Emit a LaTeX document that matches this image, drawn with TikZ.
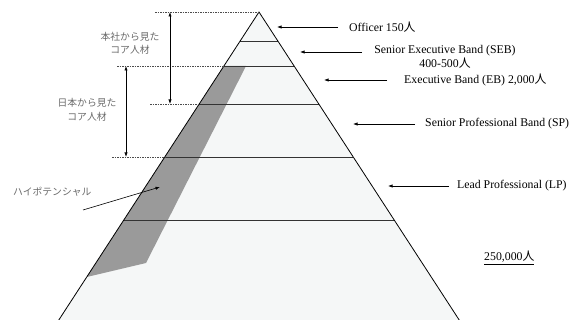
\documentclass[tikz,border=0pt]{standalone}
\usepackage{fontspec}
\setmainfont{Liberation Serif}
\newfontfamily\jp{Noto Sans CJK JP}
\usetikzlibrary{arrows.meta}
\definecolor{pyrfill}{HTML}{F5F7F7}
\definecolor{band}{HTML}{9A9A9A}
\definecolor{jgray}{HTML}{6A6A6A}
\tikzset{
  edge/.style={black, line width=0.8pt},
  level/.style={black!80, line width=0.9pt},
  guide/.style={black!70, line width=0.5pt, dash pattern=on 1.5pt off 1pt},
  arr/.style={-{Latex[length=4.5pt,width=3.2pt]}, black, line width=0.6pt},
  darr/.style={{Latex[length=4.5pt,width=3.2pt]}-{Latex[length=4.5pt,width=3.2pt]}, black, line width=0.6pt},
  lab/.style={font=\fontsize{11.8}{14}\selectfont, inner sep=0pt, anchor=west},
  jlab/.style={font=\jp\fontsize{9.8}{13.5}\selectfont, text=jgray, inner sep=0pt, align=center}
}
\begin{document}
\begin{tikzpicture}[x=1pt,y=-1pt]
\useasboundingbox (0,0) rectangle (578,320);
\clip (0,0) rectangle (578,320);
% pyramid corners
\coordinate (apex) at (259,12);
\coordinate (bl) at (58.8,320);
\coordinate (br) at (459.2,320);
% level ends
\coordinate (l1) at (240.15,41);  \coordinate (r1) at (277.85,41);
\coordinate (l2) at (223.9,66);   \coordinate (r2) at (294.1,66);
\coordinate (l3) at (199.2,104);  \coordinate (r3) at (318.8,104);
\coordinate (l4) at (164.75,157); \coordinate (r4) at (353.25,157);
\coordinate (l5) at (123.8,220);  \coordinate (r5) at (394.2,220);
% pyramid body
\fill[pyrfill] (apex) -- (br) -- (bl) -- cycle;
% high-potential band
\coordinate (b1) at (246,66);
\coordinate (b2) at (146,263);
\coordinate (b3) at (86.75,277);
\fill[band] (l2) -- (b1) -- (b2) -- (b3) -- cycle;
% levels
\foreach \i in {1,...,5} \draw[level] (l\i) -- (r\i);
\draw[edge] (bl) -- (apex) -- (br);
% dashed guides
\coordinate (g0) at (155,12);
\coordinate (g2) at (117,66);
\coordinate (g3) at (150,104);
\coordinate (g4) at (112,157);
\draw[guide] (g0) -- (apex);
\draw[guide] (g2) -- (l2);
\draw[guide] (g3) -- (l3);
\draw[guide] (g4) -- (l4);
% vertical arrows
\coordinate (va1) at (170,12); \coordinate (vb1) at (170,104);
\coordinate (va2) at (126,66); \coordinate (vb2) at (126,157);
\draw[darr] (va1) -- (vb1);
\draw[darr] (va2) -- (vb2);
% japanese labels
\node[jlab] (honsha) at (130,43.5) {本社から見た\\コア人材};
\node[jlab] (nihon) at (87,110) {日本から見た\\コア人材};
\node[jlab, anchor=west] (hipo) at (13,192) {ハイポテンシャル};
\coordinate (hs) at (83,210);
\coordinate (he) at (160,187);
\draw[arr] (hs) -- (he);
% right labels
\node[lab] (off) at (349,27) {Officer 150{\jp 人}};
\node[lab, align=center, anchor=north] (seb) at (445,45) {Senior Executive Band (SEB)\\400-500{\jp 人}};
\node[lab] (eb) at (404,80) {Executive Band (EB) 2,000{\jp 人}};
\node[lab] (sp) at (425,124) {Senior Professional Band (SP)};
\node[lab] (lp) at (457,186) {Lead Professional (LP)};
\node[lab] (tot) at (484,258) {\underline{250,000{\jp 人}}};
\coordinate (ot) at (338,27);  \coordinate (oh) at (277,27);
\coordinate (st) at (362,52);  \coordinate (sh) at (300,52);
\coordinate (et) at (387,80);  \coordinate (eh) at (324,80);
\coordinate (pt) at (415,124); \coordinate (ph) at (353,124);
\coordinate (lt) at (449,186); \coordinate (lh) at (388,186);
\draw[arr] (ot) -- (oh);
\draw[arr] (st) -- (sh);
\draw[arr] (et) -- (eh);
\draw[arr] (pt) -- (ph);
\draw[arr] (lt) -- (lh);
\end{tikzpicture}
\end{document}
